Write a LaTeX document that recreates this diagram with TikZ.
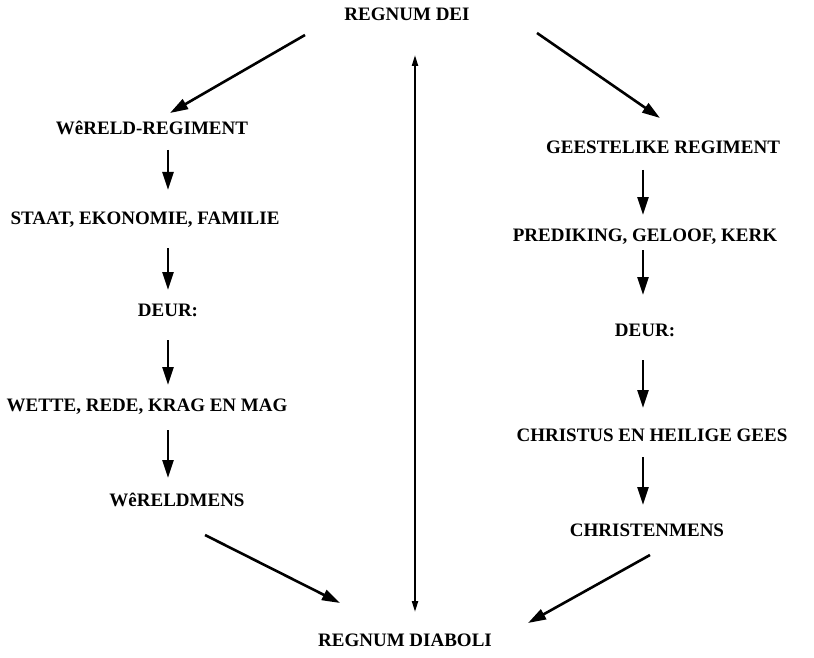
\documentclass[tikz,border=0pt]{standalone}
\usepackage{fontspec}
\setmainfont{Liberation Serif}
\usetikzlibrary{arrows.meta}
\begin{document}
\begin{tikzpicture}[x=1pt,y=-1pt,
  lbl/.style={font=\bfseries\fontsize{19}{21}\selectfont, inner sep=0pt, anchor=center},
  arr/.style={line width=2.6pt, -{Triangle[length=18pt,width=11pt]}},
  biarr/.style={line width=2pt, {Triangle[length=11pt,width=6pt]}-{Triangle[length=11pt,width=6pt]}}]
\useasboundingbox (0,0) rectangle (814,658);
\node[lbl] (dei) at (407,14) {REGNUM DEI};
\node[lbl] (diab) at (405,640) {REGNUM DIABOLI};
% left column
\node[lbl] (wreg) at (152,128) {WêRELD-REGIMENT};
\node[lbl] (staat) at (145,220) {STAAT, EKONOMIE, FAMILIE};
\node[lbl] (deurL) at (168,310) {DEUR:};
\node[lbl] (wette) at (147,407) {WETTE, REDE, KRAG EN MAG};
\node[lbl] (wmens) at (177,500) {WêRELDMENS};
% right column
\node[lbl] (greg) at (663,147) {GEESTELIKE REGIMENT};
\node[lbl] (pred) at (645,237) {PREDIKING, GELOOF, KERK};
\node[lbl] (deurR) at (645,330) {DEUR:};
\node[lbl] (chr) at (652,435) {CHRISTUS EN HEILIGE GEES};
\node[lbl] (cmens) at (647,530) {CHRISTENMENS};
% diagonal arrows
\draw[arr] ([shift={(-102,21)}]dei.center) -- ([shift={(18,-15)}]wreg.center);
\draw[arr] ([shift={(130,19)}]dei.center) -- ([shift={(-3,-29)}]greg.center);
\draw[arr] ([shift={(28,35)}]wmens.center) -- ([shift={(-65,-37)}]diab.center);
\draw[arr] ([shift={(3,25)}]cmens.center) -- ([shift={(123,-17)}]diab.center);
% left vertical arrows
\draw[arr] ([shift={(16,22)}]wreg.center) -- ([shift={(23,-30)}]staat.center);
\draw[arr] ([shift={(23,28)}]staat.center) -- ([shift={(0,-20)}]deurL.center);
\draw[arr] ([shift={(0,30)}]deurL.center) -- ([shift={(21,-22)}]wette.center);
\draw[arr] ([shift={(21,23)}]wette.center) -- ([shift={(-9,-22)}]wmens.center);
% right vertical arrows
\draw[arr] ([shift={(-20,23)}]greg.center) -- ([shift={(-2,-22)}]pred.center);
\draw[arr] ([shift={(-2,13)}]pred.center) -- ([shift={(-2,-35)}]deurR.center);
\draw[arr] ([shift={(-2,30)}]deurR.center) -- ([shift={(-9,-27)}]chr.center);
\draw[arr] ([shift={(-9,22)}]chr.center) -- ([shift={(-4,-25)}]cmens.center);
% central double arrow
\draw[biarr] ([shift={(8,41)}]dei.center) -- ([shift={(10,-28)}]diab.center);
\end{tikzpicture}
\end{document}
